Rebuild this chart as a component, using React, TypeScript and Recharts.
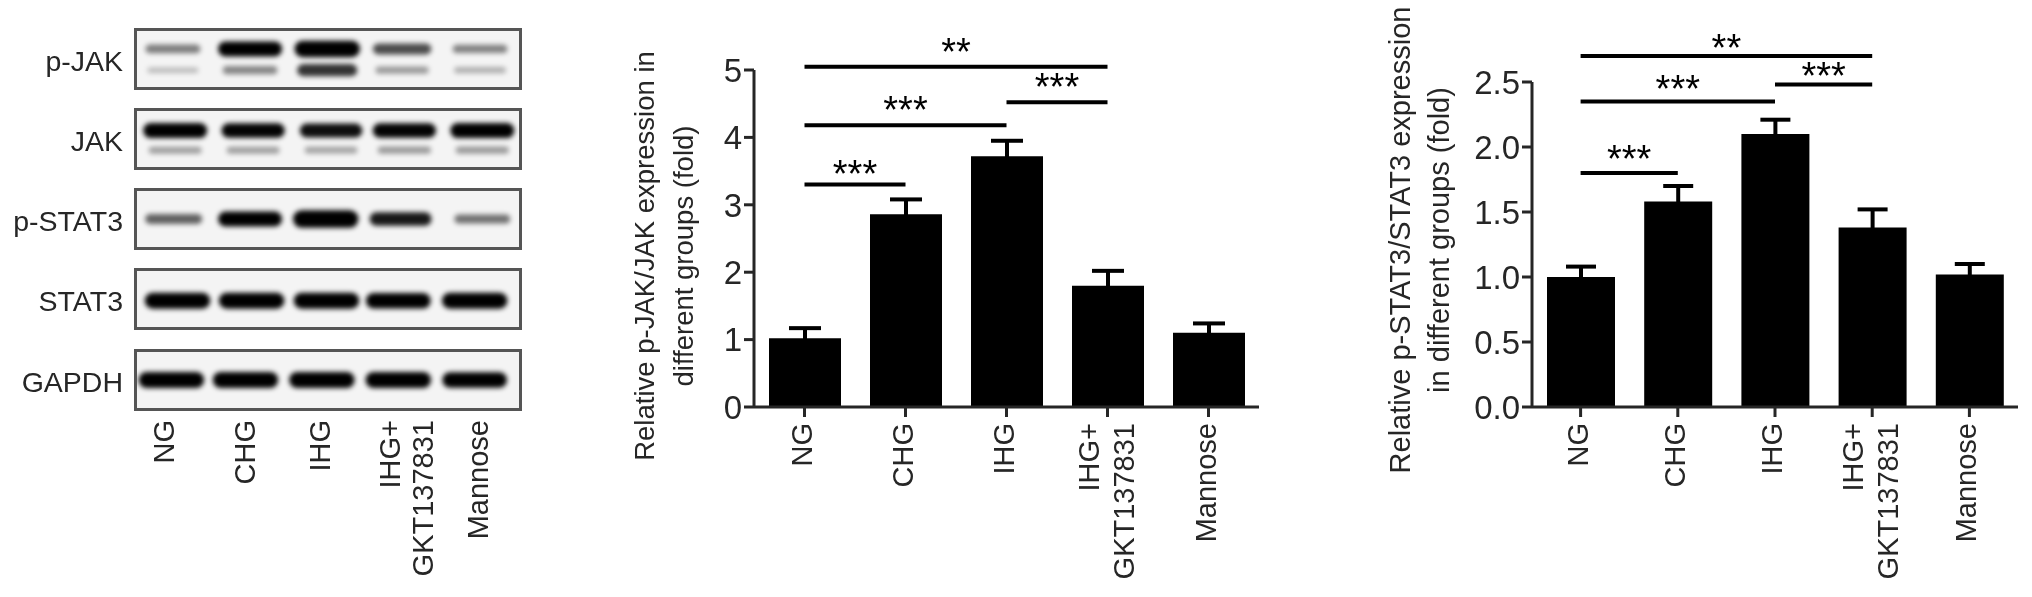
import {
  Bar,
  BarChart,
  ErrorBar,
  Label,
  ReferenceLine,
  Scatter,
  ScatterChart,
  XAxis,
  YAxis
} from "recharts";

const FONT = "'Liberation Sans', Arial, sans-serif";
const INK = "#262626";

const groups = ["NG", "CHG", "IHG", "IHG+ GKT137831", "Mannose"];

// densitometry panels
const jakMeans = [1.02, 2.86, 3.72, 1.8, 1.1];
const jakErrors = [0.15, 0.22, 0.23, 0.22, 0.14];
const jakTicks = [0, 1, 2, 3, 4, 5];
const jakBrackets = [
  { from: "NG", to: "IHG+ GKT137831", y: 5.05, stars: "**" },
  { from: "IHG", to: "IHG+ GKT137831", y: 4.52, stars: "***" },
  { from: "NG", to: "IHG", y: 4.18, stars: "***" },
  { from: "NG", to: "CHG", y: 3.3, stars: "***" }
];

const statMeans = [1.0, 1.58, 2.1, 1.38, 1.02];
const statErrors = [0.08, 0.12, 0.11, 0.14, 0.08];
const statTicks = [0, 0.5, 1, 1.5, 2, 2.5];
const statBrackets = [
  { from: "NG", to: "IHG+ GKT137831", y: 2.7, stars: "**" },
  { from: "IHG", to: "IHG+ GKT137831", y: 2.48, stars: "***" },
  { from: "NG", to: "IHG", y: 2.35, stars: "***" },
  { from: "NG", to: "CHG", y: 1.8, stars: "***" }
];

// blot strips: lane position in lane units, band level up the strip, band density
const blotStrips = [
  {
    name: "p-JAK",
    lanes: [0.47, 1.48, 2.49, 3.47, 4.49],
    bands: [
      { level: 0.68, density: [0.36, 1, 1.15, 0.6, 0.34] },
      { level: 0.3, density: [0.06, 0.32, 0.72, 0.22, 0.12] }
    ]
  },
  {
    name: "JAK",
    lanes: [0.5, 1.52, 2.54, 3.5, 4.52],
    bands: [
      { level: 0.65, density: [1, 0.95, 0.9, 0.95, 1] },
      { level: 0.3, density: [0.2, 0.2, 0.18, 0.22, 0.22] }
    ]
  },
  {
    name: "p-STAT3",
    lanes: [0.48, 1.48, 2.47, 3.45, 4.52],
    bands: [{ level: 0.5, density: [0.5, 1, 1.25, 0.85, 0.42] }]
  },
  {
    name: "STAT3",
    lanes: [0.53, 1.5, 2.48, 3.42, 4.42],
    bands: [{ level: 0.47, density: [1.1, 1.1, 1.1, 1.05, 1.1] }]
  },
  {
    name: "GAPDH",
    lanes: [0.45, 1.42, 2.42, 3.42, 4.42],
    bands: [{ level: 0.5, density: [1.1, 1.1, 1.1, 1.1, 1.05] }]
  }
];

const laneLabels = [
  { x: 164, lines: ["NG"] },
  { x: 245, lines: ["CHG"] },
  { x: 320, lines: ["IHG"] },
  { x: 406, lines: ["IHG+", "GKT137831"] },
  { x: 478, lines: ["Mannose"] }
];

function BlotBand(props: any) {
  const { cx, cy, payload } = props;
  const d = payload.density;
  const w = 50 + 14 * Math.min(d, 1.1);
  const h = 5 + 10 * Math.min(d, 1.25);
  return (
    <rect
      x={cx - w / 2}
      y={cy - h / 2}
      width={w}
      height={h}
      rx={h / 2}
      fill="#000"
      fillOpacity={Math.min(1, 0.18 + d * 0.85)}
      style={{ filter: "blur(2.4px)" }}
    />
  );
}

function BlotStrip({ strip, top }: { strip: (typeof blotStrips)[number]; top: number }) {
  return (
    <>
      <div
        style={{
          position: "absolute",
          left: 0,
          top: top + 17,
          width: 123,
          textAlign: "right",
          fontFamily: FONT,
          fontSize: 28.5,
          color: INK
        }}
      >
        {strip.name}
      </div>
      <div
        style={{
          position: "absolute",
          left: 134,
          top,
          width: 388,
          height: 62,
          boxSizing: "border-box",
          border: "3px solid #555",
          background: "#f4f4f4",
          overflow: "hidden"
        }}
      >
        <ScatterChart width={382} height={56} margin={{ top: 0, right: 0, bottom: 0, left: 0 }}>
          <XAxis type="number" dataKey="lane" domain={[0, 5]} hide />
          <YAxis type="number" dataKey="level" domain={[0, 1]} hide />
          {strip.bands.map((band, i) => (
            <Scatter
              key={i}
              data={strip.lanes.map((lane, j) => ({
                lane,
                level: band.level,
                density: band.density[j]
              }))}
              shape={BlotBand}
              isAnimationActive={false}
            />
          ))}
        </ScatterChart>
      </div>
    </>
  );
}

function GroupTick(props: any) {
  const { x, y, payload } = props;
  const lines = String(payload.value).split(" ");
  const top = y + 4;
  return (
    <text
      x={x}
      y={top}
      transform={`rotate(-90 ${x} ${top})`}
      textAnchor="end"
      fontFamily={FONT}
      fontSize={29}
      fill={INK}
    >
      {lines.map((line, i) => (
        <tspan key={line} x={x} dy={i === 0 ? (lines.length > 1 ? -9 : 7) : 35}>
          {line}
        </tspan>
      ))}
    </text>
  );
}

function AxisTitle(props: { lines: string[]; x: number; y: number; size: number; gap: number }) {
  const { lines, x, y, size, gap } = props;
  return (
    <text
      transform={`rotate(-90 ${x} ${y})`}
      x={x}
      y={y}
      textAnchor="middle"
      fontFamily={FONT}
      fontSize={size}
      fill={INK}
    >
      {lines.map((line, i) => (
        <tspan key={line} x={x} dy={i === 0 ? 0 : gap}>
          {line}
        </tspan>
      ))}
    </text>
  );
}

interface PanelProps {
  left: number;
  width: number;
  axisWidth: number;
  top: number;
  rightGap: number;
  means: number[];
  errors: number[];
  ticks: number[];
  brackets: typeof jakBrackets;
  starGaps: number[];
  barSize: number;
  capWidth: number;
  formatTick?: (v: number) => string;
  titleLines: string[];
  titleX: number;
  titleY: number;
  titleSize: number;
  titleGap: number;
}

function Panel(p: PanelProps) {
  const chartData = groups.map((group, i) => ({
    group,
    mean: p.means[i],
    error: p.errors[i]
  }));
  return (
    <div style={{ position: "absolute", left: p.left, top: 0 }}>
      <BarChart
        width={p.width}
        height={597}
        data={chartData}
        barCategoryGap={0}
        margin={{ top: p.top, right: p.rightGap, bottom: 0, left: 0 }}
      >
        <XAxis
          dataKey="group"
          height={597 - 407}
          interval={0}
          tick={<GroupTick />}
          tickSize={10}
          axisLine={{ stroke: INK, strokeWidth: 3 }}
          tickLine={{ stroke: INK, strokeWidth: 3 }}
        />
        <YAxis
          width={p.axisWidth}
          domain={[p.ticks[0], p.ticks[p.ticks.length - 1]]}
          ticks={p.ticks}
          tickFormatter={p.formatTick}
          tickSize={10}
          tickMargin={2}
          tick={{ fill: INK, fontSize: 33, fontFamily: FONT }}
          axisLine={{ stroke: INK, strokeWidth: 3 }}
          tickLine={{ stroke: INK, strokeWidth: 3 }}
        >
          <Label
            content={() => (
              <AxisTitle
                lines={p.titleLines}
                x={p.titleX}
                y={p.titleY}
                size={p.titleSize}
                gap={p.titleGap}
              />
            )}
          />
        </YAxis>
        <Bar dataKey="mean" fill="#000" barSize={p.barSize} isAnimationActive={false}>
          <ErrorBar
            dataKey="error"
            direction="y"
            width={p.capWidth}
            stroke="#000"
            strokeWidth={4}
            isAnimationActive={false}
          />
        </Bar>
        {p.brackets.map((b, i) => (
          <ReferenceLine
            key={b.from + b.to}
            segment={[
              { x: b.from, y: b.y },
              { x: b.to, y: b.y }
            ]}
            stroke="#000"
            strokeWidth={4}
            ifOverflow="visible"
            label={{
              value: b.stars,
              position: "top",
              offset: p.starGaps[i],
              fill: "#000",
              fontSize: 38,
              fontFamily: FONT
            }}
          />
        ))}
      </BarChart>
    </div>
  );
}

export default function App() {
  return (
    <div
      style={{
        position: "absolute",
        left: 0,
        top: 0,
        width: 2032,
        height: 597,
        background: "#fff",
        overflow: "hidden",
        filter: "blur(0.5px)"
      }}
    >
      {blotStrips.map((strip, i) => (
        <BlotStrip key={strip.name} strip={strip} top={[28, 108, 188, 268, 349][i]} />
      ))}
      <svg width={560} height={597} style={{ position: "absolute", left: 0, top: 0 }}>
        {laneLabels.map((lane) => (
          <text
            key={lane.x}
            x={lane.x}
            y={420}
            transform={`rotate(-90 ${lane.x} 420)`}
            textAnchor="end"
            fontFamily={FONT}
            fontSize={29}
            fill={INK}
          >
            {lane.lines.map((line, i) => (
              <tspan key={line} x={lane.x} dy={i === 0 ? (lane.lines.length > 1 ? -6 : 10) : 33}>
                {line}
              </tspan>
            ))}
          </text>
        ))}
      </svg>
      <Panel
        left={620}
        width={640}
        axisWidth={134}
        top={70}
        rightGap={1}
        means={jakMeans}
        errors={jakErrors}
        ticks={jakTicks}
        brackets={jakBrackets}
        starGaps={[2, 2, 2, -2]}
        barSize={72}
        capWidth={16}
        titleLines={["Relative p-JAK/JAK expression in", "different groups (fold)"]}
        titleX={34}
        titleY={256}
        titleSize={27.5}
        titleGap={39}
      />
      <Panel
        left={1370}
        width={662}
        axisWidth={162}
        top={82}
        rightGap={14}
        means={statMeans}
        errors={statErrors}
        ticks={statTicks}
        brackets={statBrackets}
        starGaps={[-5, -4, 0, 1]}
        barSize={68}
        capWidth={15}
        formatTick={(v) => v.toFixed(1)}
        titleLines={["Relative p-STAT3/STAT3 expression", "in different groups (fold)"]}
        titleX={40}
        titleY={240}
        titleSize={29}
        titleGap={39}
      />
    </div>
  );
}
